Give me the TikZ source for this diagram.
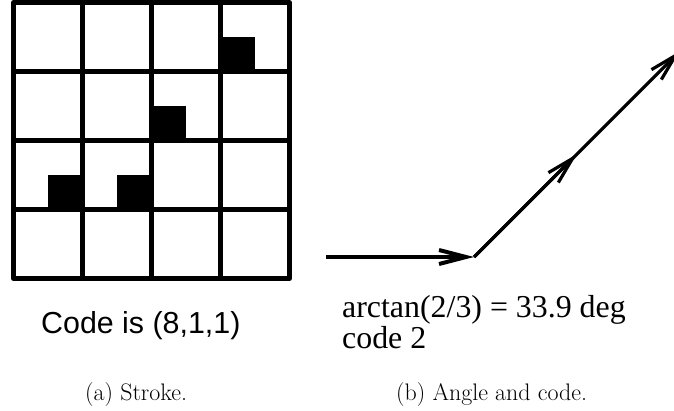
\documentclass[tikz,border=0pt]{standalone}
\usepackage{fontspec}
\usepackage{tikz}
\usetikzlibrary{arrows.meta,positioning}
\newfontfamily\arialfont{Liberation Sans}
\newfontfamily\timesfont{Liberation Serif}
\definecolor{ink}{HTML}{000000}
\tikzset{
  gridline/.style={draw=ink,line width=4.5bp,line join=round},
  pixel/.style={fill=ink},
  chainarr/.style={-{Straight Barb[length=27bp,width=14bp]},draw=ink,line width=3.2bp},
  sanslabel/.style={font=\arialfont\fontsize{30.5}{34}\selectfont,inner sep=0pt},
  seriflabel/.style={font=\timesfont\fontsize{32}{36}\selectfont,inner sep=0pt},
  subcap/.style={font=\fontsize{24}{28}\selectfont,inner sep=0pt}
}

\begin{document}
\begin{tikzpicture}[x=1bp,y=1bp]
  \useasboundingbox (-13.5,-131.5) rectangle (660.5,278.5);
  \foreach \i/\j in {1/2,3/2,4/4,6/6}
    \fill[pixel] (34.5*\i,34.5*\j) rectangle ++(34.5,34.5);
  \foreach \k in {1,2,3} {
    \draw[gridline] (69*\k,0) -- (69*\k,276);
    \draw[gridline] (0,69*\k) -- (276,69*\k);
  }
  \draw[gridline] (0,0) rectangle (276,276);
  \node[sanslabel,anchor=base west] (strokecode) at (27.5,-54.5) {Code is (8,1,1)};

  \coordinate (start) at (312.5,21.5);
  \coordinate (corner) at (460.5,21.5);
  \coordinate (mid) at (563.5,124.5);
  \coordinate (end) at (666.5,227.5);
  \draw[chainarr,line width=4bp] (start) -- (corner);
  \draw[chainarr] (corner) -- (end);
  \draw[chainarr] (corner) -- (mid);
  \node[seriflabel,anchor=base west] (angletext) at (328.5,-38.5) {arctan(2/3) = 33.9 deg};
  \node[seriflabel,anchor=base west] (codetext) at (328.5,-69.5) {code 2};

  \node[subcap,anchor=base west] (capa) at (71.5,-121.5) {(a) Stroke.};
  \node[subcap,anchor=base west] (capb) at (382.5,-121.5) {(b) Angle and code.};
\end{tikzpicture}
\end{document}
